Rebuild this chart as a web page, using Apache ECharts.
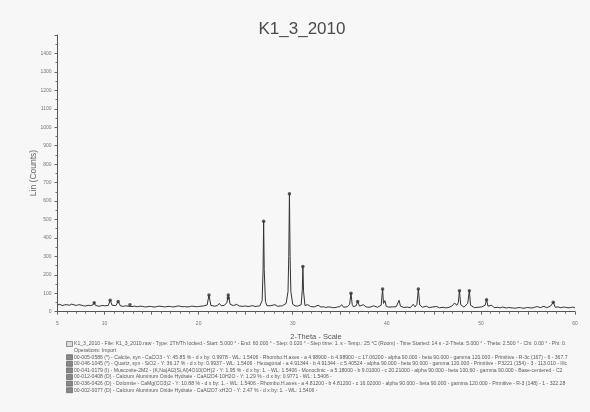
<!DOCTYPE html>
<html>
<head>
<meta charset="utf-8">
<script src="https://cdn.jsdelivr.net/npm/echarts@6/dist/echarts.min.js"></script>
<style>
  html, body { margin: 0; padding: 0; background: #f7f7f7; }
  #chart { width: 590px; height: 412px; }
</style>
</head>
<body>
<div id="chart"></div>
<script>
// Diffraction scan K1_3_2010: [2-Theta (deg), Lin (Counts)]
const scan = [
  [5.0,36],[5.25,40],[5.5,33],[5.75,37],[6.0,38],[6.25,35],[6.5,41],[6.75,37],[7.0,34],[7.25,38],[7.5,36],
  [7.75,32],[8.0,31],[8.25,35],[8.5,33],[8.8,38],[8.9,49],[9.0,36],[9.25,31],[9.5,30],[9.75,34],[10.0,32],
  [10.2,30],[10.4,34],[10.6,62],[10.8,35],[11.0,30],[11.2,33],[11.45,55],[11.7,31],[12.0,29],[12.25,32],
  [12.5,30],[12.7,38],[12.9,28],[13.2,30],[13.5,27],[13.75,30],[14.0,29],[14.25,26],[14.5,26],[14.75,29],
  [15.0,28],[15.25,25],[15.5,27],[15.75,30],[16.0,29],[16.25,27],[16.5,26],[16.75,29],[17.0,28],[17.25,26],
  [17.5,27],[17.75,31],[18.0,30],[18.25,27],[18.5,28],[18.75,26],[19.0,27],[19.25,30],[19.5,29],[19.75,27],
  [20.0,28],[20.25,30],[20.5,31],[20.7,29],[20.9,36],[21.1,90],[21.3,34],[21.5,29],[21.7,30],[21.85,34],
  [22.0,33],[22.2,45],[22.4,32],[22.55,29],[22.7,34],[23.0,48],[23.15,90],[23.35,40],[23.5,31],[23.7,33],
  [23.85,30],[24.05,40],[24.3,31],[24.5,33],[24.7,29],[24.85,32],[25.0,31],[25.25,28],[25.5,30],[25.75,33],
  [26.0,28],[26.25,30],[26.5,31],[26.75,60],[26.85,230],[26.91,490],[26.97,230],[27.1,55],[27.25,33],
  [27.4,30],[27.6,32],[27.8,28],[28.1,38],[28.4,29],[28.65,31],[28.9,32],[29.1,34],[29.3,45],[29.5,110],
  [29.58,300],[29.65,640],[29.72,300],[29.8,110],[30.0,40],[30.25,32],[30.5,30],[30.7,33],[30.9,38],
  [31.02,120],[31.08,245],[31.15,110],[31.3,34],[31.45,30],[31.6,38],[31.75,30],[31.9,28],[32.1,30],
  [32.3,26],[32.5,28],[32.7,35],[32.85,27],[33.0,25],[33.25,27],[33.5,23],[33.75,26],[34.0,25],[34.25,22],
  [34.5,22],[34.75,26],[35.0,27],[35.2,38],[35.4,24],[35.6,26],[35.8,27],[36.05,40],[36.19,100],[36.32,40],
  [36.45,27],[36.6,30],[36.75,33],[36.9,55],[37.1,30],[37.3,27],[37.5,38],[37.65,29],[37.8,26],[38.0,28],
  [38.2,24],[38.4,27],[38.6,32],[38.8,26],[39.0,24],[39.2,27],[39.4,35],[39.55,123],[39.65,45],[39.8,60],
  [39.95,28],[40.2,25],[40.4,22],[40.6,26],[40.8,25],[41.0,27],[41.15,35],[41.3,62],[41.45,30],[41.6,25],
  [41.8,23],[42.0,27],[42.2,25],[42.35,24],[42.5,22],[42.65,28],[42.8,40],[43.0,26],[43.2,40],[43.35,123],
  [43.5,36],[43.65,27],[43.8,24],[44.0,26],[44.2,30],[44.35,25],[44.5,22],[44.7,24],[44.9,26],[45.1,23],
  [45.3,28],[45.45,24],[45.6,21],[45.8,25],[46.0,24],[46.25,21],[46.5,22],[46.7,25],[46.9,30],[47.05,33],
  [47.2,47],[47.45,35],[47.6,50],[47.72,114],[47.85,38],[48.0,28],[48.2,25],[48.4,30],[48.6,45],[48.77,114],
  [48.9,35],[49.1,26],[49.3,22],[49.5,25],[49.7,24],[49.9,22],[50.1,26],[50.3,28],[50.45,35],[50.6,65],
  [50.75,30],[50.95,27],[51.15,35],[51.4,22],[51.6,25],[51.8,24],[52.05,21],[52.3,25],[52.5,22],[52.7,20],
  [52.95,23],[53.2,21],[53.45,20],[53.7,19],[53.95,22],[54.2,22],[54.45,19],[54.7,20],[54.95,23],[55.2,21],
  [55.45,20],[55.7,24],[55.85,22],[56.0,28],[56.15,23],[56.3,22],[56.5,25],[56.7,29],[56.85,23],[57.0,22],
  [57.2,25],[57.4,30],[57.55,27],[57.69,51],[57.9,24],[58.05,27],[58.2,26],[58.35,23],[58.5,21],[58.75,25],
  [59.0,24],[59.25,21],[59.5,22],[59.75,25],[60.0,21]
];

// Phase identification marks placed on the identified reflections
const phaseMarks = [
  [8.9,49],[10.6,62],[11.45,55],[12.7,38],[21.1,90],[23.15,90],[23.15,74],[26.91,490],[29.65,640],
  [31.08,245],[36.19,100],[36.9,55],[39.55,123],[43.35,123],[47.72,114],[48.77,114],[50.6,65],[57.69,51]
];

const xLabelValues = [5, 10, 20, 30, 40, 50, 60];
const yLabelMax = 1400;

const chartTitle = 'K1_3_2010';
const yTitle = 'Lin (Counts)';
const xTitle = '2-Theta - Scale';

const scanInfo = [
  'K1_3_2010 - File: K1_3_2010.raw - Type: 2Th/Th locked - Start: 5.000 \u00b0 - End: 60.000 \u00b0 - Step: 0.020 \u00b0 - Step time: 1. s - Temp.: 25 \u00b0C (Room) - Time Started: 14 s - 2-Theta: 5.000 \u00b0 - Theta: 2.500 \u00b0 - Chi: 0.00 \u00b0 - Phi: 0.',
  'Operations: Import'
];
const phaseInfo = [
  '00-005-0586 (*) - Calcite, syn - CaCO3 - Y: 45.85 % - d x by: 0.9978 - WL: 1.5406 - Rhombo.H.axes - a 4.98900 - b 4.98900 - c 17.06200 - alpha 90.000 - beta 90.000 - gamma 120.000 - Primitive - R-3c (167) - 6 - 367.7',
  '00-046-1045 (*) - Quartz, syn - SiO2 - Y: 36.17 % - d x by: 0.9937 - WL: 1.5406 - Hexagonal - a 4.91344 - b 4.91344 - c 5.40524 - alpha 90.000 - beta 90.000 - gamma 120.000 - Primitive - P3221 (154) - 3 - 113.010 - I/Ic',
  '00-041-0179 (I) - Muscovite-2M2 - (K,Na)Al2(Si,Al)4O10(OH)2 - Y: 1.95 % - d x by: 1. - WL: 1.5406 - Monoclinic - a 5.18000 - b 9.01000 - c 20.21000 - alpha 90.000 - beta 100.60 - gamma 90.000 - Base-centered - C2',
  '00-012-0408 (D) - Calcium Aluminum Oxide Hydrate - CaAl2O4\u00b710H2O - Y: 1.29 % - d x by: 0.9771 - WL: 1.5406 -',
  '00-036-0426 (D) - Dolomite - CaMg(CO3)2 - Y: 10.88 % - d x by: 1. - WL: 1.5406 - Rhombo.H.axes - a 4.81200 - b 4.81200 - c 16.02000 - alpha 90.000 - beta 90.000 - gamma 120.000 - Primitive - R-3 (148) - 1 - 322.28',
  '00-002-0077 (D) - Calcium Aluminum Oxide Hydrate - CaAl2O7\u00b7xH2O - Y: 2.47 % - d x by: 1. - WL: 1.5406 -'
];

const chart = echarts.init(document.getElementById('chart'), null, { renderer: 'canvas' });

const FONT = 'Liberation Sans, Arial, sans-serif';
const infoLines = scanInfo.concat(phaseInfo);
const infoTop = 344;
const infoStep = 6.6;
const graphics = [
  { type: 'text', x: 302, y: 29,
    style: { text: chartTitle, fill: '#4a4a4a', font: '17px ' + FONT, textAlign: 'center', textVerticalAlign: 'middle' } },
  { type: 'text', x: 34, y: 173, rotation: Math.PI / 2,
    style: { text: yTitle, fill: '#666', font: '8.5px ' + FONT, textAlign: 'center', textVerticalAlign: 'middle' } },
  { type: 'text', x: 316, y: 337,
    style: { text: xTitle, fill: '#555', font: '7.5px ' + FONT, textAlign: 'center', textVerticalAlign: 'middle' } }
];
infoLines.forEach((line, i) => {
  const y = infoTop + i * infoStep;
  graphics.push({ type: 'text', x: 74, y: y,
    style: { text: line, fill: '#5a5a5a', font: '5.1px ' + FONT, textVerticalAlign: 'middle' } });
  if (i !== 1) {
    graphics.push({ type: 'rect', shape: { x: 66.5, y: y - 2.5, width: 6, height: 5 },
      style: { fill: i === 0 ? '#ddd' : '#888', stroke: '#555', lineWidth: 0.6 } });
  }
});

chart.setOption({
  backgroundColor: '#f7f7f7',
  animation: false,
  grid: { left: 57.5, right: 15, top: 35, bottom: 100.3 },
  xAxis: {
    type: 'value', min: 5, max: 60, interval: 5,
    axisLine: { lineStyle: { color: '#555', width: 1 } },
    axisTick: { show: true, length: 3, lineStyle: { color: '#666' } },
    minorTick: { show: true, splitNumber: 5, length: 2, lineStyle: { color: '#777' } },
    splitLine: { show: false },
    axisLabel: {
      color: '#777', fontSize: 5, margin: 9, fontFamily: FONT,
      formatter: v => (xLabelValues.indexOf(v) >= 0 ? String(v) : '')
    }
  },
  yAxis: {
    type: 'value', min: 0, max: 1500, interval: 100,
    axisLine: { show: true, lineStyle: { color: '#555', width: 1 } },
    axisTick: { show: true, length: 3, lineStyle: { color: '#666' } },
    minorTick: { show: true, splitNumber: 2, length: 2, lineStyle: { color: '#777' } },
    splitLine: { show: false },
    axisLabel: {
      color: '#777', fontSize: 5, margin: 6, fontFamily: FONT,
      formatter: v => (v <= yLabelMax ? String(v) : '')
    }
  },
  series: [
    {
      type: 'line', data: scan, symbol: 'none',
      lineStyle: { color: '#333', width: 1 }, z: 3
    },
    {
      type: 'scatter', data: phaseMarks, symbol: 'circle', symbolSize: 3.5,
      itemStyle: { color: '#333' }, z: 4
    }
  ],
  graphic: graphics
});
</script>
</body>
</html>
